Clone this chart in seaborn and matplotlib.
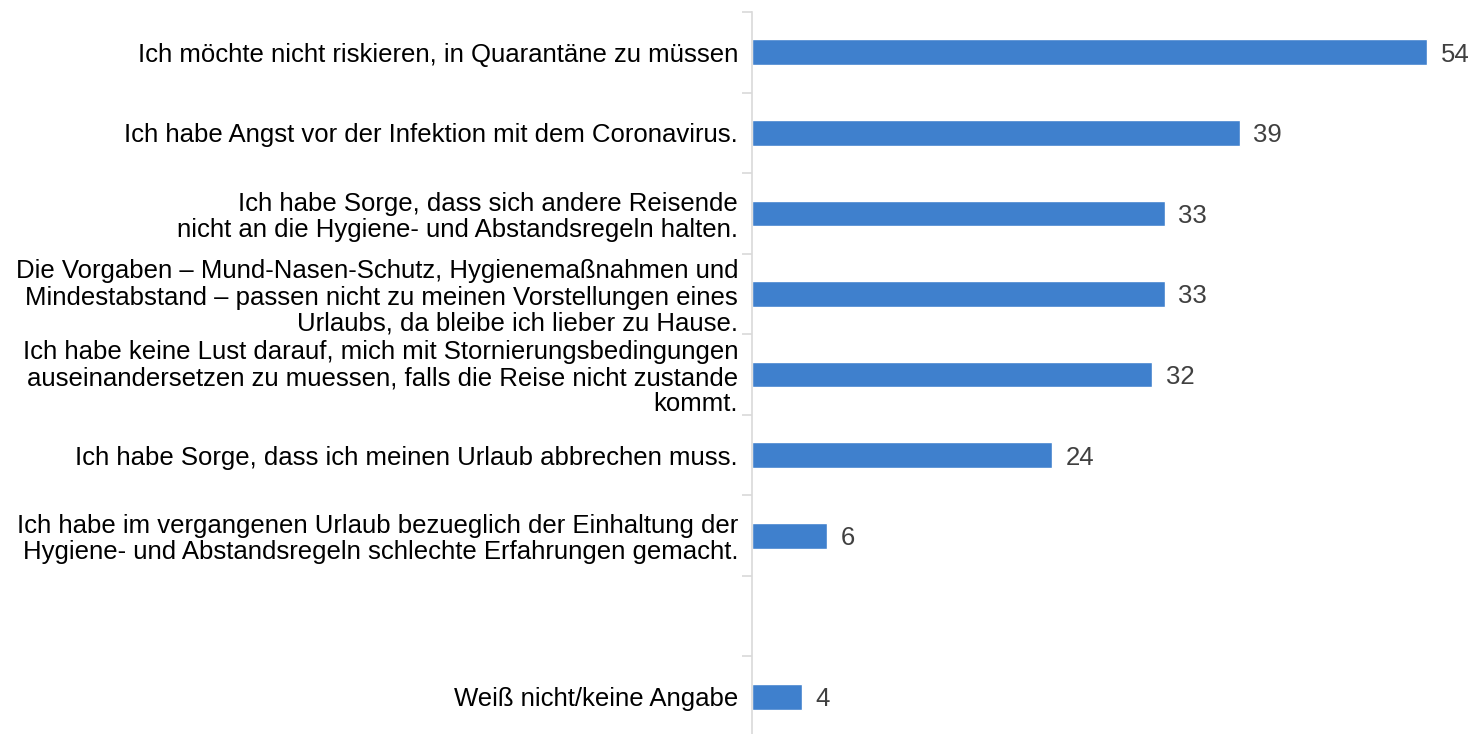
import numpy as np
import pandas as pd
import matplotlib.pyplot as plt
import seaborn as sns

labels = [
    "Ich möchte nicht riskieren, in Quarantäne zu müssen",
    "Ich habe Angst vor der Infektion mit dem Coronavirus.",
    "Ich habe Sorge, dass sich andere Reisende\nnicht an die Hygiene- und Abstandsregeln halten.",
    "Die Vorgaben – Mund-Nasen-Schutz, Hygienemaßnahmen und\nMindestabstand – passen nicht zu meinen Vorstellungen eines\nUrlaubs, da bleibe ich lieber zu Hause.",
    "Ich habe keine Lust darauf, mich mit Stornierungsbedingungen\nauseinandersetzen zu muessen, falls die Reise nicht zustande\nkommt.",
    "Ich habe Sorge, dass ich meinen Urlaub abbrechen muss.",
    "Ich habe im vergangenen Urlaub bezueglich der Einhaltung der\nHygiene- und Abstandsregeln schlechte Erfahrungen gemacht.",
    "Weiß nicht/keine Angabe",
]
values = [54, 39, 33, 33, 32, 24, 6, 4]
# an empty slot sits between the last reason and "Weiß nicht"
order = labels[:7] + [" "] + labels[7:]

sns.set_style("white")
plt.rcParams['font.family'] = ['Liberation Sans', 'DejaVu Sans']

df = pd.DataFrame({"reason": labels, "value": values})

fig = plt.figure(figsize=(14.7, 7.34), dpi=100)
ax = fig.add_axes([752 / 1470, -3 / 734, (1470 - 752) / 1470, 725 / 734])

sns.barplot(data=df, y="reason", x="value", order=order, color="#3F80CD",
            saturation=1, width=0.32, orient="h", ax=ax)

ax.set_xlim(0, (1470 - 752) / 12.5)
ax.set_ylim(len(order) - 0.5, -0.5)
ax.set_xlabel("")
ax.set_ylabel("")
ax.set_xticks([])

fs = 18.5
for i, lab in enumerate(order):
    if lab.strip() == "":
        continue
    v = values[labels.index(lab)]
    ax.text(v + 1.1, i, str(v), va="center_baseline", ha="left", fontsize=fs,
            color="#404040")

ax.set_yticks(range(len(order)))
ax.set_yticklabels(order, fontsize=fs, color="black", ha="right",
                   multialignment="right", linespacing=1.12)
ax.tick_params(axis="y", which="major", length=0, pad=10)
ax.set_yticks(np.arange(-0.5, len(order)), minor=True)
ax.tick_params(axis="y", which="minor", left=True, length=7,
               color="#d9d9d9", width=1.2)

for s in ["top", "right", "bottom"]:
    ax.spines[s].set_visible(False)
ax.spines["left"].set_color("#d9d9d9")
ax.spines["left"].set_linewidth(1.2)

fig.savefig("out.png", dpi=100)
